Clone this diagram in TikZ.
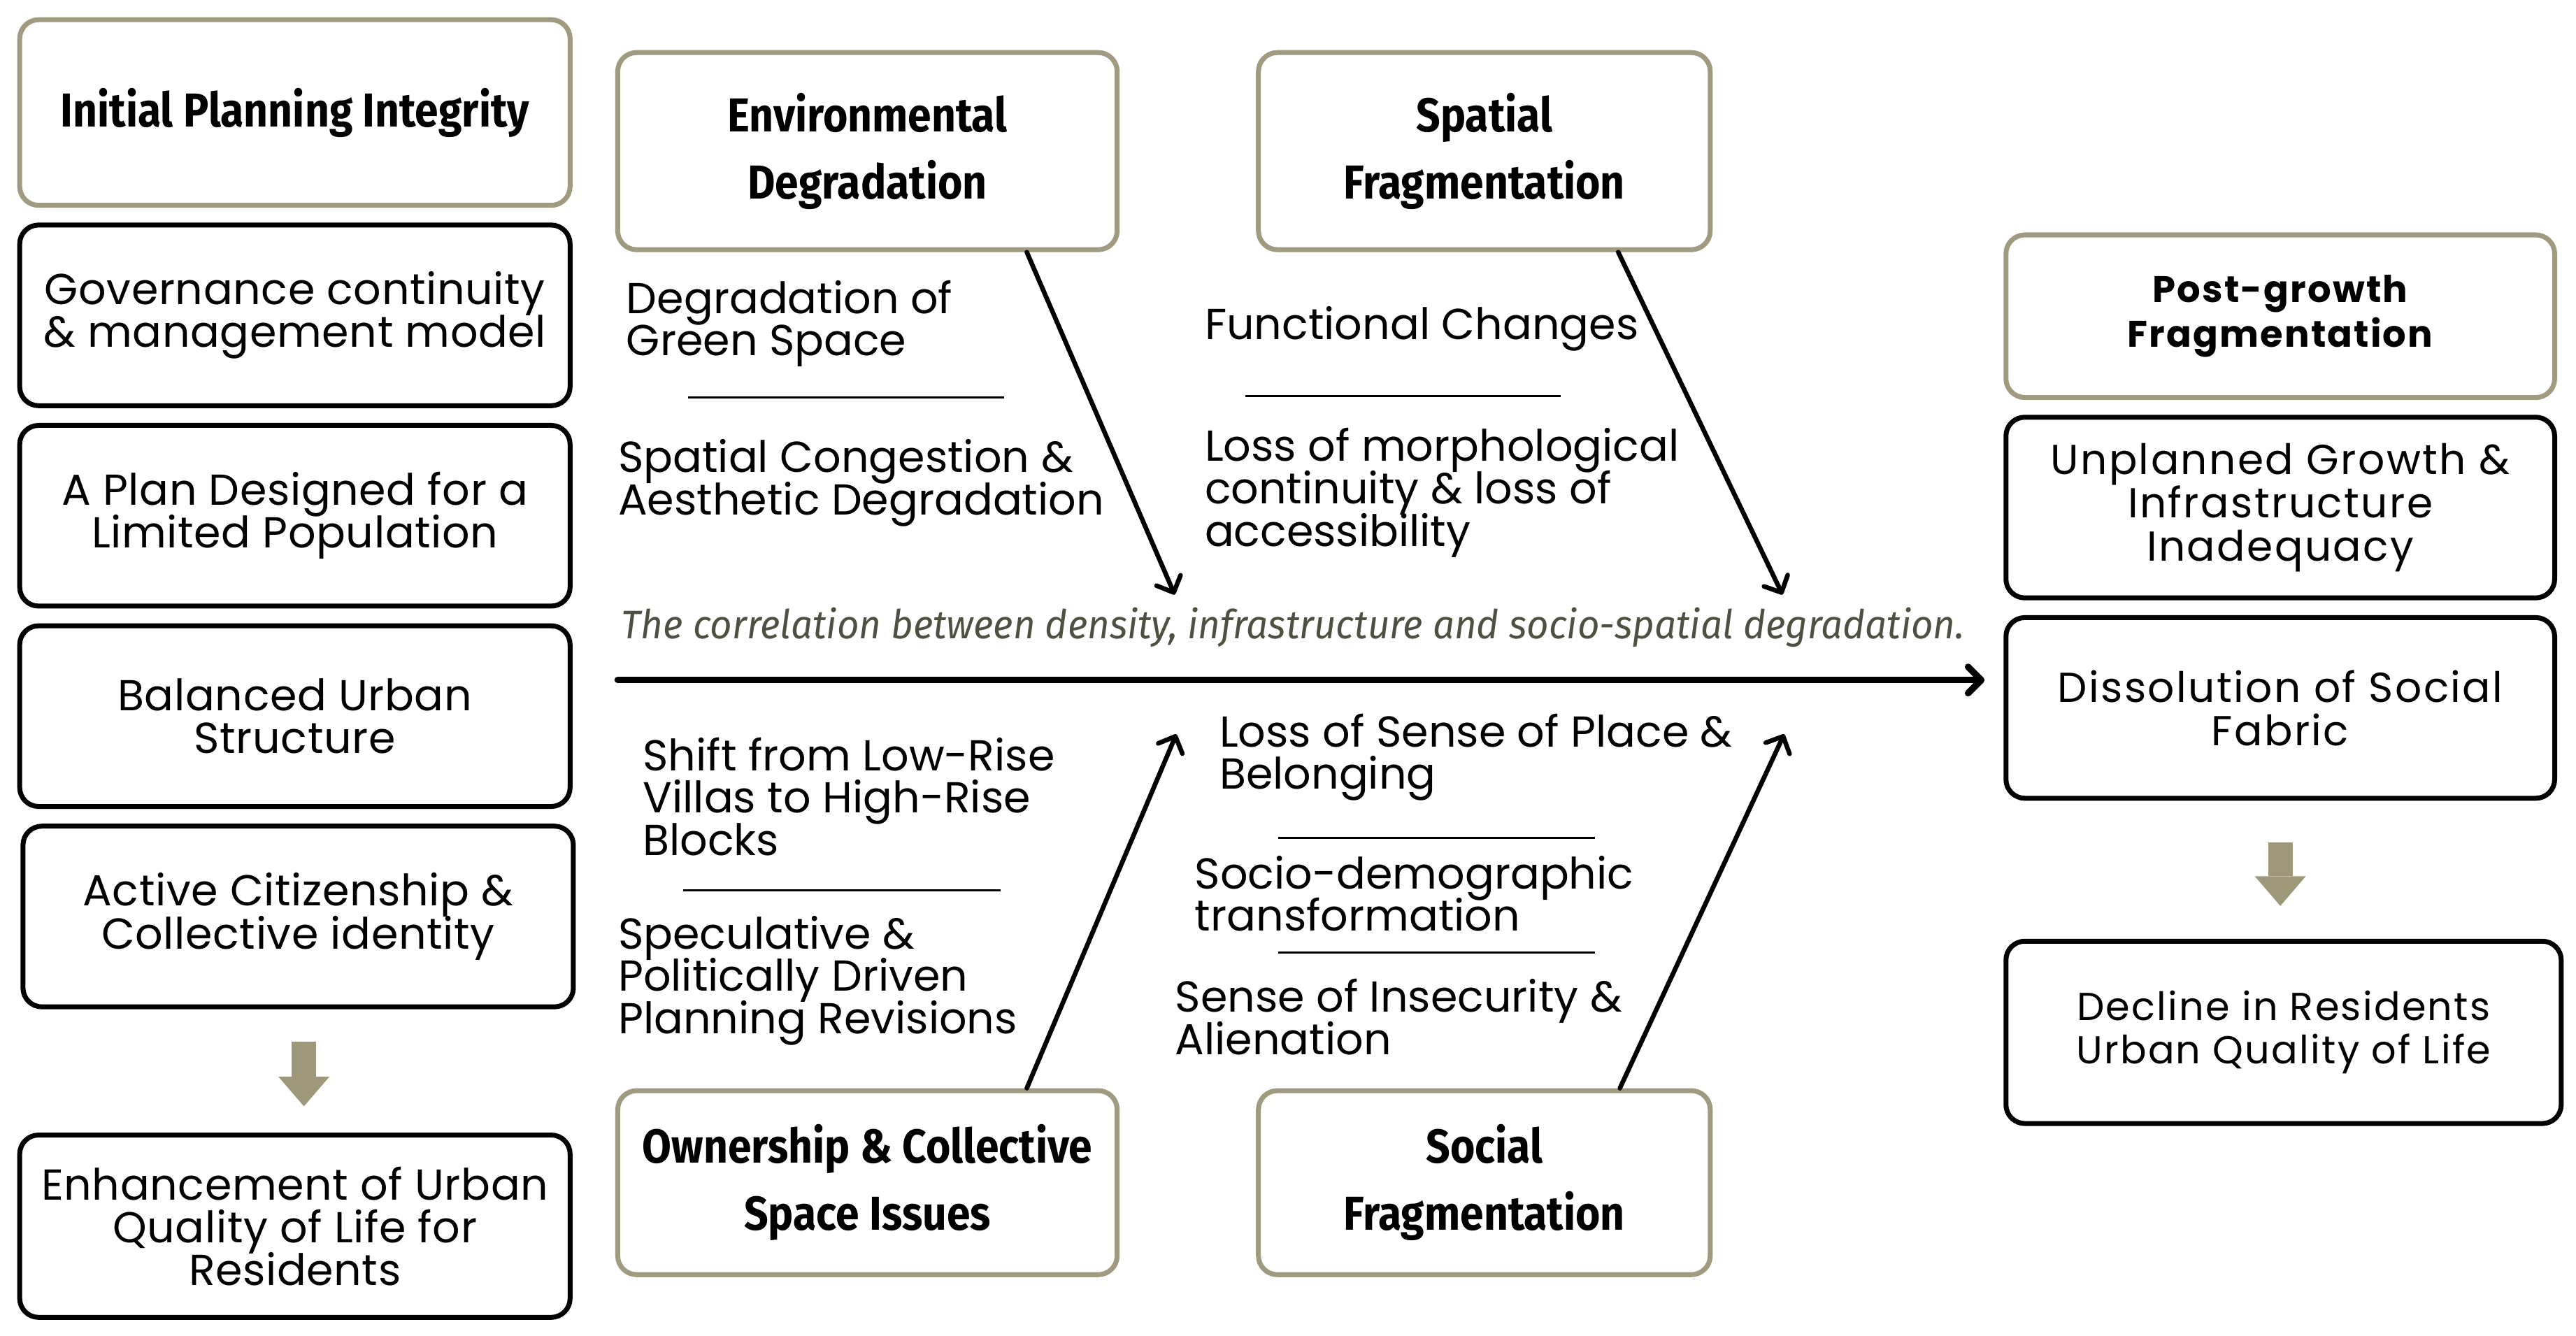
\documentclass[tikz,border=0pt]{standalone}
\usepackage{fontspec}
\setmainfont{Poppins}
\newfontfamily\headfont[FakeStretch=0.89]{Fira Sans}
\newfontfamily\notefont[FakeStretch=0.96]{Fira Sans}
\newfontfamily\spacedfont[LetterSpace=1]{Poppins}
\newfontfamily\rightfont[LetterSpace=4]{Poppins}
\newfontfamily\widefont[LetterSpace=4]{Poppins}
\usetikzlibrary{arrows.meta,positioning}

\definecolor{khaki}{RGB}{160,154,128}
\definecolor{khakiarrow}{RGB}{157,152,122}
\definecolor{notegrey}{RGB}{80,80,66}

\lineskiplimit=-100pt
\lineskip=0pt

\begin{document}
\begin{tikzpicture}[x=0.2mm,y=-0.2mm,node distance=1.8mm,
                    >={Straight Barb[length=1.6mm,width=3.2mm,line cap=round,line join=round]}]

  \tikzstyle{headbox}=[rectangle,draw=khaki,line width=1.7pt,rounded corners=2.3mm,align=center,
                       font=\headfont\bfseries\fontsize{16.5}{23.3}\selectfont]
  \tikzstyle{itembox}=[rectangle,draw,line width=1.7pt,rounded corners=2.3mm,align=center,
                       minimum width=67mm,minimum height=22mm,font=\spacedfont\fontsize{15}{14.8}\selectfont]
  \tikzstyle{cause}=[anchor=west,inner sep=0pt,align=left,font=\fontsize{15}{14.7}\selectfont]
  \tikzstyle{bone}=[->,line width=1.6pt,line cap=round]
  \tikzstyle{rule}=[line width=0.8pt]
  \tikzstyle{stepdown}=[draw=khakiarrow,line width=3mm,
                        -{Triangle[length=3.6mm,width=6.2mm,line width=0pt]}]

  \useasboundingbox (0,0) rectangle (1568,813);

  % left column
  \node[headbox,minimum width=67mm,minimum height=22.6mm] (IPI) at (179.5,68.5) {Initial Planning Integrity};
  \node[itembox] (GOV) [below=of IPI] {Governance continuity\\\& management model};
  \node[itembox] (PLAN) [below=of GOV] {A Plan Designed for a\\Limited Population};
  \node[itembox] (BAL) [below=of PLAN] {Balanced Urban\\Structure};
  \node[itembox] (CIT) [below=of BAL,xshift=0.4mm] {Active Citizenship \&\\Collective identity};
  \node[itembox,minimum height=22.2mm] (ENH) at (179.5,746.5) {Enhancement of Urban\\Quality of Life for\\Residents};

  % bones
  \node[headbox,minimum width=60.8mm,minimum height=24mm] (ENV) at (528,92) {Environmental\\Degradation};
  \node[headbox,minimum width=55mm,minimum height=24mm] (SPA) at (903.5,92) {Spatial\\Fragmentation};
  \node[headbox,minimum width=60.8mm,minimum height=22.4mm] (OWN) at (528,720) {Ownership \& Collective\\Space Issues};
  \node[headbox,minimum width=55mm,minimum height=22.4mm] (SOC) at (903.5,720) {Social\\Fragmentation};

  % right column
  \node[headbox,minimum width=66.8mm,minimum height=19.8mm,
        font=\widefont\bfseries\fontsize{12.8}{15.4}\selectfont] (PGF) at (1388,192.5) {Post-growth\\Fragmentation};
  \node[itembox,minimum width=66.8mm,font=\rightfont\fontsize{14.5}{15}\selectfont] (UNP) [below=of PGF]
       {Unplanned Growth \&\\Infrastructure\\Inadequacy};
  \node[itembox,minimum width=66.8mm,font=\rightfont\fontsize{14.5}{15}\selectfont] (DIS) [below=of UNP]
       {Dissolution of Social\\Fabric};
  \node[itembox,minimum width=67.6mm,minimum height=22.2mm,font=\rightfont\fontsize{13.5}{15}\selectfont] (DEC)
       at (1390,628.5) {Decline in Residents\\Urban Quality of Life};

  % causes
  \node[cause] (DGS) at (381,197) {Degradation of\\Green Space};
  \node[cause] (SCA) at (376,294) {Spatial Congestion \&\\Aesthetic Degradation};
  \node[cause] (FCH) at (733,200) {Functional Changes};
  \node[cause] (LMC) at (733,300) {Loss of morphological\\continuity \& loss of\\accessibility};
  \node[cause] (SLV) at (391,485) {Shift from Low-Rise\\Villas to High-Rise\\Blocks};
  \node[cause] (SPD) at (376,597) {Speculative \&\\Politically Driven\\Planning Revisions};
  \node[cause] (LSP) at (742,461) {Loss of Sense of Place \&\\Belonging};
  \node[cause] (SDT) at (727,544) {Socio-demographic\\transformation};
  \node[cause] (SIA) at (715,619) {Sense of Insecurity \&\\Alienation};

  \draw[rule] (419,242) -- (611,242);
  \draw[rule] (758,241) -- (950,241);
  \draw[rule] (416,542) -- (609,542);
  \draw[rule] (778,510) -- (971,510);
  \draw[rule] (778,580) -- (971,580);

  % spine
  \coordinate (spineL) at (376,414);
  \coordinate (spineR) at (1208,414);
  \coordinate (envtip) at (715,362);
  \coordinate (spatip) at (1085,362);
  \coordinate (owntip) at (716,447);
  \coordinate (soctip) at (1086,447);

  \node[anchor=west,inner sep=0pt,text=notegrey,font=\notefont\itshape\fontsize{13.8}{16}\selectfont]
       (CORR) at (378,382) {The correlation between density, infrastructure and socio-spatial degradation.};

  \draw[->,line width=2.3pt,line cap=round] (spineL) -- (spineR);
  \draw[bone] ([xshift=19.4mm]ENV.south) -- (envtip);
  \draw[bone] ([xshift=16.3mm]SPA.south) -- (spatip);
  \draw[bone] ([xshift=19.4mm]OWN.north) -- (owntip);
  \draw[bone] ([xshift=16.5mm]SOC.north) -- (soctip);

  \draw[stepdown,shorten <=3.9mm,shorten >=3.2mm] ([xshift=0.7mm]CIT.south) -- ([xshift=0.7mm]CIT.south |- ENH.north);
  \draw[stepdown,shorten <=5.1mm,shorten >=4mm] (DIS.south) -- (DIS.south |- DEC.north);
\end{tikzpicture}
\end{document}
